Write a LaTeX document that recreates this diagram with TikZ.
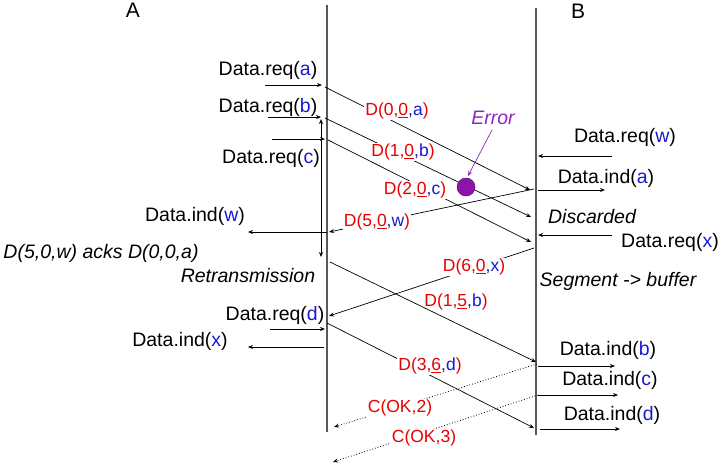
\documentclass[tikz,border=0pt]{standalone}
\usepackage{fontspec}
\setmainfont{Liberation Sans}
\usetikzlibrary{arrows.meta}
\definecolor{tred}{RGB}{232,0,0}
\definecolor{tblue}{RGB}{25,25,210}
\definecolor{tpurp}{RGB}{140,20,170}
\definecolor{epurp}{RGB}{140,40,190}
\newcommand{\bl}[1]{{\color{tblue}#1}}
\newcommand{\dlab}[3]{D(#1,\underline{#2}\bl{,#3})}
\begin{document}
\begin{tikzpicture}[x=1pt,y=-1pt,
  life/.style={draw=black!65,line width=1.1pt},
  msg/.style={draw=black,line width=0.7pt,-{Stealth[length=5pt,width=4pt]}},
  dmsg/.style={draw=black,line width=0.8pt,dotted,-{Stealth[length=5pt,width=4pt]}},
  blab/.style={font=\fontsize{19.5}{22}\selectfont,inner sep=0pt},
  ilab/.style={font=\fontsize{19.5}{22}\selectfont\itshape,inner sep=0pt},
  rlab/.style={font=\fontsize{17.5}{20}\selectfont,text=tred,fill=white,inner sep=1pt},
  ttl/.style={font=\fontsize{21}{24}\selectfont,inner sep=0pt}]
\useasboundingbox (0,0) rectangle (720,464);
% titles
\node[ttl] (tA) at (133,10) {A};
\node[ttl] (tB) at (578,11) {B};
% lifelines
\coordinate (Atop) at (327,5);
\coordinate (Abot) at (327,432);
\coordinate (Btop) at (536,8);
\coordinate (Bbot) at (536,435);
\draw[life] (Atop) -- (Abot);
\draw[life] (Btop) -- (Bbot);
% coordinates
\coordinate (ra0) at (265,85);   \coordinate (ra1) at (322,85);
\coordinate (rb0) at (268,117);  \coordinate (rb1) at (321,117);
\coordinate (rc0) at (272,139);  \coordinate (rc1) at (325,139);
\coordinate (d0s) at (325,87);   \coordinate (d0e) at (530,190);
\coordinate (d1s) at (325,118);  \coordinate (d1e) at (531,217);
\coordinate (d2s) at (328,140);  \coordinate (d2e) at (531,242);
\coordinate (rw0) at (612,156);  \coordinate (rw1) at (538,156);
\coordinate (ia0) at (538,190);  \coordinate (ia1) at (605,190);
\coordinate (rx0) at (612,235);  \coordinate (rx1) at (538,235);
\coordinate (d5s) at (534,189);  \coordinate (d5e) at (329,232);
\coordinate (iw0) at (327,232);  \coordinate (iw1) at (248,232);
\coordinate (vt) at (321,119);   \coordinate (vb) at (321,257);
\coordinate (d15s) at (330,262); \coordinate (d15e) at (536,362);
\coordinate (d6s) at (534,248);  \coordinate (d6e) at (329,316);
\coordinate (rd0) at (270,329);  \coordinate (rd1) at (325,329);
\coordinate (ix0) at (324,347);  \coordinate (ix1) at (248,347);
\coordinate (d3s) at (327,323);  \coordinate (d3e) at (534,428);
\coordinate (ib0) at (538,366);  \coordinate (ib1) at (615,366);
\coordinate (ic0) at (538,395);  \coordinate (ic1) at (618,395);
\coordinate (id0) at (540,429);  \coordinate (id1) at (620,429);
\coordinate (c2s) at (537,364);  \coordinate (c2e) at (334,427);
\coordinate (c3s) at (538,395);  \coordinate (c3e) at (333,462);
\coordinate (er0) at (492,130);  \coordinate (er1) at (468,176);
% local arrows
\draw[msg] (ra0) -- (ra1);
\draw[msg] (rb0) -- (rb1);
\draw[msg] (rc0) -- (rc1);
\draw[msg] (rw0) -- (rw1);
\draw[msg] (ia0) -- (ia1);
\draw[msg] (rx0) -- (rx1);
\draw[msg] (iw0) -- (iw1);
\draw[msg] (rd0) -- (rd1);
\draw[msg] (ix0) -- (ix1);
\draw[msg] (ib0) -- (ib1);
\draw[msg] (ic0) -- (ic1);
\draw[msg] (id0) -- (id1);
\draw[msg,{Stealth[length=5pt,width=4pt]}-{Stealth[length=5pt,width=4pt]}] (vt) -- (vb);
% segments
\draw[msg] (d0s) -- (d0e);
\draw[msg] (d1s) -- (d1e);
\draw[msg] (d2s) -- (d2e);
\draw[msg] (d5s) -- (d5e);
\draw[msg] (d15s) -- (d15e);
\draw[msg] (d6s) -- (d6e);
\draw[msg] (d3s) -- (d3e);
\draw[dmsg] (c2s) -- (c2e);
\draw[dmsg] (c3s) -- (c3e);
% error
\node[circle,fill=tpurp,draw=tpurp!70!black,line width=0.5pt,minimum size=18pt,inner sep=0pt] (err) at (466,187) {};
\draw[draw=epurp,line width=0.7pt,-{Stealth[length=5pt,width=4pt]}] (er0) -- (er1);
\node[ilab,text=epurp] (errl) at (493,118) {Error};
% black labels
\node[blab] (lra) at (268,70) {Data.req(\bl{a})};
\node[blab] (lrb) at (268,107) {Data.req(\bl{b})};
\node[blab] (lrc) at (271,158) {Data.req(\bl{c})};
\node[blab] (lrw) at (625,137) {Data.req(\bl{w})};
\node[blab] (lia) at (606,178) {Data.ind(\bl{a})};
\node[ilab] (ldis) at (592,217) {Discarded};
\node[blab] (lrx) at (670,242) {Data.req(\bl{x})};
\node[blab] (liw) at (195,216) {Data.ind(\bl{w})};
\node[ilab] (lack) at (101,253) {D(5,0,w) acks D(0,0,a)};
\node[ilab] (lret) at (248,276) {Retransmission};
\node[ilab] (lseg) at (618,281) {Segment -> buffer};
\node[blab] (lrd) at (275,315) {Data.req(\bl{d})};
\node[blab] (lix) at (180,341) {Data.ind(\bl{x})};
\node[blab] (lib) at (608,350) {Data.ind(\bl{b})};
\node[blab] (lic) at (610,380) {Data.ind(\bl{c})};
\node[blab] (lid) at (612,415) {Data.ind(\bl{d})};
% red labels
\node[rlab] (l0) at (397,111) {\dlab{0}{0}{a}};
\node[rlab] (l1) at (403,152) {\dlab{1}{0}{b}};
\node[rlab] (l2) at (415,190) {\dlab{2}{0}{c}};
\node[rlab] (l5) at (377,222) {\dlab{5}{0}{w}};
\node[rlab] (l6) at (474,267) {\dlab{6}{0}{x}};
\node[rlab,fill=none] (l15) at (456,302) {\dlab{1}{5}{b}};
\node[rlab] (l3) at (430,366) {\dlab{3}{6}{d}};
\node[rlab] (lc2) at (400,408) {C(OK,2)};
\node[rlab] (lc3) at (424,438) {C(OK,3)};
\end{tikzpicture}
\end{document}
